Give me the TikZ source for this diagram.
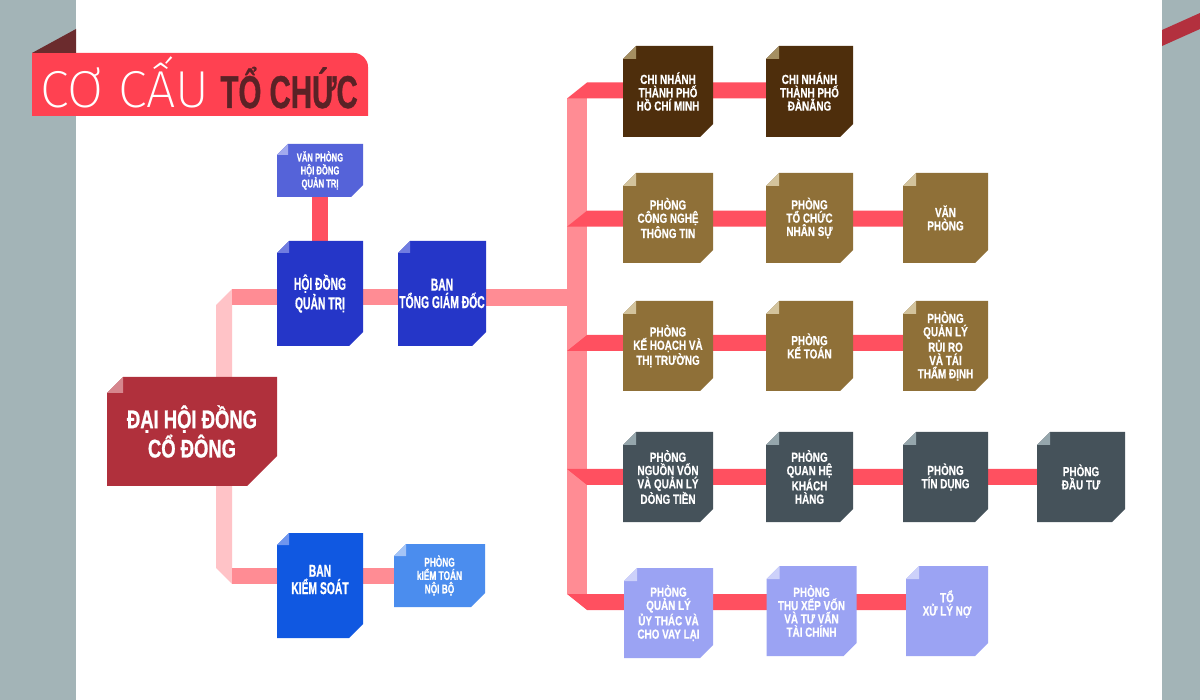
\documentclass[tikz,border=0pt]{standalone}
\usepackage{fontspec}
\setmainfont{Liberation Sans}
\newfontfamily\fr{Liberation Sans}[FakeStretch=0.75,FakeBold=0.6]
\newfontfamily\fm{Liberation Sans}[FakeStretch=0.6,FakeBold=0.6]
\newfontfamily\fd{Liberation Sans}[FakeStretch=0.72,FakeBold=0.8]
\newfontfamily\fv{Liberation Sans}[FakeStretch=0.66,FakeBold=0.5]
\newfontfamily\ft{Liberation Sans}[FakeStretch=0.64,FakeBold=0.8]
\IfFontExistsTF{Fira Sans ExtraLight}{%
  \newfontfamily\fthin{Fira Sans ExtraLight}\def\thinsize{52}}{%
  \newfontfamily\fthin{Liberation Sans}[FakeStretch=0.87]\def\thinsize{50}}
\usetikzlibrary{calc}
\pgfdeclarelayer{back}
\pgfdeclarelayer{bars}
\pgfsetlayers{back,bars,main}
\definecolor{stripc}{HTML}{A3B4B7}
\definecolor{bannerc}{HTML}{FF4151}
\definecolor{titlefold}{HTML}{6B2B2D}
\definecolor{titledark}{HTML}{5A2226}
\definecolor{rightband}{HTML}{B3303E}
\definecolor{redc}{HTML}{FF5060}
\definecolor{pinkc}{HTML}{FF8C94}
\definecolor{lpinkc}{HTML}{FFC3C7}
\definecolor{dhc}{HTML}{B0303C}
\definecolor{dhf}{HTML}{D6868D}
\definecolor{bluec}{HTML}{2536C8}
\definecolor{bluef}{HTML}{707CE0}
\definecolor{vpc}{HTML}{5563D9}
\definecolor{vpf}{HTML}{A3AAEE}
\definecolor{bksc}{HTML}{1058E1}
\definecolor{bksf}{HTML}{6F95EE}
\definecolor{pkc}{HTML}{4B8DEE}
\definecolor{pkf}{HTML}{A4C4F6}
\definecolor{brdc}{HTML}{4E2E0C}
\definecolor{brdf}{HTML}{A58F62}
\definecolor{olc}{HTML}{8F7038}
\definecolor{olf}{HTML}{D3C39C}
\definecolor{slc}{HTML}{45525A}
\definecolor{slf}{HTML}{95A6AC}
\definecolor{lavc}{HTML}{9BA3F3}
\definecolor{lavf}{HTML}{CDD1FA}
\tikzset{
  paper/.style n args={4}{inner sep=0pt, outer sep=0pt, align=center, text=white,
    path picture={
      \fill[#1] ([yshift=-#3]path picture bounding box.north west) -- ([xshift=#3]path picture bounding box.north west) -- (path picture bounding box.north east) -- ([yshift=#4]path picture bounding box.south east) -- ([xshift=-#4]path picture bounding box.south east) -- (path picture bounding box.south west) -- cycle;
      \fill[#2] ([yshift=-#3]path picture bounding box.north west) -- ([xshift=#3]path picture bounding box.north west) -- ([xshift=#3,yshift=-#3]path picture bounding box.north west) -- cycle;
    }},
  rowbox/.style={minimum width=#1, minimum height=90pt, font=\fr\bfseries\fontsize{13.2}{13.3}\selectfont},
  brown/.style={paper={brdc}{brdf}{13pt}{13pt}},
  olive/.style={paper={olc}{olf}{13pt}{13pt}},
  slate/.style={paper={slc}{slf}{13pt}{13pt}},
  lav/.style={paper={lavc}{lavf}{13pt}{13pt}},
  mainbox/.style={minimum width=#1, minimum height=105pt, font=\fm\bfseries\fontsize{17.2}{17.4}\selectfont},
  barR/.style={draw=redc, line width=16pt},
  barP/.style={draw=pinkc, line width=16pt},
}
\begin{document}
\begin{tikzpicture}[x=1pt,y=-1pt]
\useasboundingbox (0,0) rectangle (1200,700);
\begin{pgfonlayer}{back}
\fill[white] (0,0) rectangle (1200,700);
\fill[stripc] (0,0) rectangle (76,700);
\fill[stripc] (1162,0) rectangle (1200,700);
\fill[rightband] (1162,30) -- (1200,13) -- (1200,29) -- (1162,46) -- cycle;
\fill[bannerc] (32,53) -- (354,53) .. controls (361.7,53) and (368,59.3) .. (368,67) -- (368,116) -- (32,116) -- cycle;
\fill[titlefold] (32,53) -- (76,29) -- (76,53) -- cycle;
\end{pgfonlayer}
% title
\node[anchor=base west, text=white, inner sep=0pt, font=\fthin\fontsize{\thinsize}{\thinsize}\selectfont] (t1) at (40,108) {CƠ CẤU};
\node[anchor=base east, text=titledark, inner sep=0pt, font=\ft\bfseries\fontsize{46}{46}\selectfont] (t2) at (358,108) {TỔ CHỨC};
% left boxes
\node[paper={vpc}{vpf}{11pt}{12pt}, minimum width=86pt, minimum height=53pt, font=\fv\bfseries\fontsize{11.6}{13}\selectfont] (vp) at (320,170.5) {VĂN PHÒNG\\HỘI ĐỒNG\\QUẢN TRỊ};
\node[paper={bluec}{bluef}{12pt}{14pt}, mainbox=86pt] (hdqt) at (320,293.5) {HỘI ĐỒNG\\QUẢN TRỊ};
\node[paper={bluec}{bluef}{12pt}{14pt}, mainbox=88pt] (tgd) at (442,293.5) {BAN\\TỔNG GIÁM ĐỐC};
\node[paper={dhc}{dhf}{16pt}{30pt}, minimum width=170pt, minimum height=109pt, font=\fd\bfseries\fontsize{25.6}{29.3}\selectfont] (dh) at (192,431.5) {ĐẠI HỘI ĐỒNG\\CỔ ĐÔNG};
\node[paper={bksc}{bksf}{12pt}{14pt}, mainbox=86pt, text depth=12pt] (bks) at (320,585.5) {BAN\\KIỂM SOÁT};
\node[paper={pkc}{pkf}{12pt}{14pt}, minimum width=91pt, minimum height=63pt, font=\fv\bfseries\fontsize{12.6}{13.3}\selectfont] (pk) at (439.5,575.5) {PHÒNG\\kIỂM TOÁN\\NỘI BỘ};
% row 1
\node[brown, rowbox=90pt, minimum height=91pt] (cn1) at (668,91.5) {CHI NHÁNH\\THÀNH PHỐ\\HỒ CHÍ MINH};
\node[brown, rowbox=87pt, minimum height=91pt] (cn2) at (809.5,91.5) {CHI NHÁNH\\THÀNH PHỐ\\ĐÀNẴNG};
% row 2
\node[olive, rowbox=90pt] (cntt) at (668,218) {PHÒNG\\CÔNG NGHỆ\\THÔNG TIN};
\node[olive, rowbox=87pt] (tcns) at (809.5,218) {PHÒNG\\TỔ CHỨC\\NHÂN SỰ};
\node[olive, rowbox=85pt] (vph) at (945.5,218) {VĂN\\PHÒNG};
% row 3
\node[olive, rowbox=90pt] (khtt) at (668,346) {PHÒNG\\KẾ HOẠCH VÀ\\THỊ TRƯỜNG};
\node[olive, rowbox=87pt] (kt) at (809.5,346) {PHÒNG\\KẾ TOÁN};
\node[olive, rowbox=85pt] (qlrr) at (945.5,346) {PHÒNG\\QUẢN LÝ\\RỦI RO\\VÀ TÁI\\THẨM ĐỊNH};
% row 4
\node[slate, rowbox=90pt] (nv) at (668,477) {PHÒNG\\NGUỒN VỐN\\VÀ QUẢN LÝ\\DÒNG TIỀN};
\node[slate, rowbox=87pt] (qhkh) at (809.5,477) {PHÒNG\\QUAN HỆ\\KHÁCH\\HÀNG};
\node[slate, rowbox=85pt] (td) at (945.5,477) {PHÒNG\\TÍN DỤNG};
\node[slate, rowbox=88pt] (dt) at (1081,477) {PHÒNG\\ĐẦU TƯ};
% row 5
\node[lav, rowbox=89pt] (ut) at (668.5,613) {PHÒNG\\QUẢN LÝ\\ỦY THÁC VÀ\\CHO VAY LẠI};
\node[lav, rowbox=90pt] (txv) at (811.5,611) {PHÒNG\\THU XẾP VỐN\\VÀ TƯ VẤN\\TÀI CHÍNH};
\node[lav, rowbox=82pt, text depth=16pt] (xln) at (947,611) {TỔ\\XỬ LÝ NỢ};
% junctions
\coordinate (l1) at (224,297);
\coordinate (l2) at (224,576);
\coordinate (s1) at (577,98.5);
\coordinate (s5) at (577,594);
\coordinate (rt) at (577,297.3);
\coordinate (r1) at (577,90.5);
\coordinate (r2) at (577,218.7);
\coordinate (r3) at (577,343);
\coordinate (r4) at (577,477);
\coordinate (r5) at (577,602);
\begin{pgfonlayer}{bars}
% left ribbon
\fill[lpinkc] ($(l1)+(-8,8)$) -- ($(l1)+(8,-8)$) -- ($(l2)+(8,8)$) -- ($(l2)+(-8,-8)$) -- cycle;
\draw[barP] ($(l1)+(8,0)$) -- (l1 -| hdqt.center);
\draw[barP] (l1 -| hdqt.center) -- (l1 -| tgd.center);
\draw[barP] ($(l2)+(8,0)$) -- (l2 -| bks.center);
\draw[barP] (l2 -| bks.center) -- (l2 -| pk.center);
\draw[barR] (vp.center) -- (hdqt.center);
% spine
\draw[draw=pinkc, line width=20pt] (s1) -- (s5);
\draw[draw=pinkc, line width=16.5pt] (rt -| tgd.center) -- (rt);
% branches
\fill[redc] ($(r1)+(-10,8)$) -- ($(r1)+(10,-8)$) -- ($(r1 -| cn2.center)+(0,-8)$) -- ($(r1 -| cn2.center)+(0,8)$) -- cycle;
\fill[redc] ($(r2)+(-10,8)$) -- ($(r2)+(10,-8)$) -- ($(r2 -| vph.center)+(0,-8)$) -- ($(r2 -| vph.center)+(0,8)$) -- cycle;
\fill[redc] ($(r3)+(-10,8)$) -- ($(r3)+(10,-8)$) -- ($(r3 -| qlrr.center)+(0,-8)$) -- ($(r3 -| qlrr.center)+(0,8)$) -- cycle;
\fill[redc] ($(r4)+(-10,-8)$) -- ($(r4 -| dt.center)+(0,-8)$) -- ($(r4 -| dt.center)+(0,8)$) -- ($(r4)+(10,8)$) -- cycle;
\fill[redc] ($(r5)+(-10,-8)$) -- ($(r5 -| xln.center)+(0,-8)$) -- ($(r5 -| xln.center)+(0,8)$) -- ($(r5)+(10,8)$) -- cycle;
\end{pgfonlayer}
\end{tikzpicture}
\end{document}
